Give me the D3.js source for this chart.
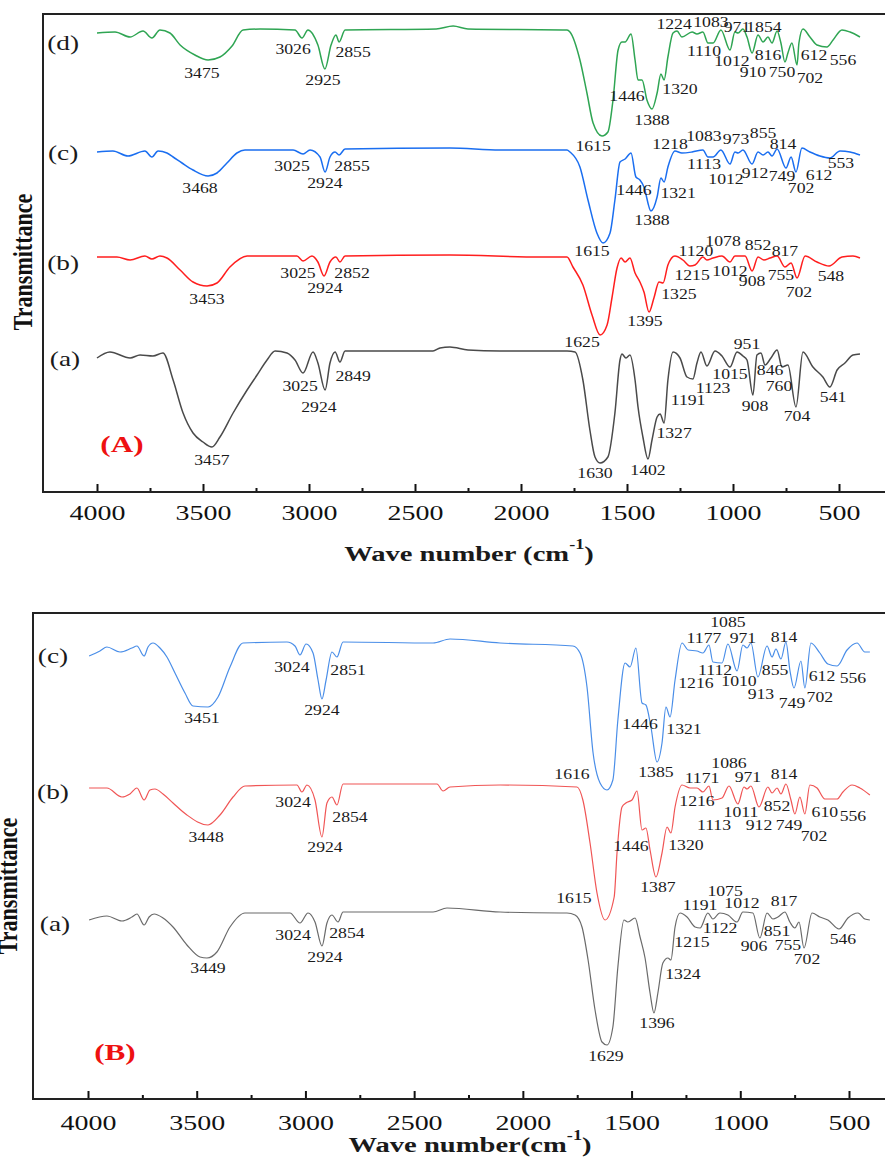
<!DOCTYPE html>
<html>
<head>
<meta charset="utf-8">
<script src="https://cdn.jsdelivr.net/npm/d3@7"></script>
<style>
  body { margin: 0; background: #fff; }
  svg { display: block; }
</style>
</head>
<body>
<script>
// FTIR spectra, wavenumber (cm-1) vs stacked transmittance (a.u.)
const majorTicks = [4000, 3500, 3000, 2500, 2000, 1500, 1000, 500];
const minorTicks = [3750, 3250, 2750, 2250, 1750, 1250, 750];

// ---------- panel (A) ----------
const specA_d = [[4000,229.5],[3915,230],[3844,227.5],[3783,230.5],[3741,227],[3703,231],[3656,229.5],[3608,223.5],[3538,218.5],[3476,216],[3420,217.5],[3363,223],[3311,231],[3231,231.5],[3066,231],[3033,227],[3005,231],[2958,223.5],[2925,211.5],[2896,223.5],[2873,228.5],[2858,225],[2830,231],[2400,231.5],[2320,233],[2250,231.5],[1783,231],[1769,230],[1722,216],[1689,199.5],[1660,184.5],[1618,178],[1590,180],[1566,196],[1542,221],[1524,225],[1509,225],[1481,229],[1462,216],[1448,206],[1429,206],[1406,196],[1382,191.5],[1358,199.5],[1340,209],[1325,206],[1307,217.5],[1283,229.5],[1264,230.5],[1241,227.5],[1193,230],[1170,229],[1142,230],[1118,224.5],[1094,224.5],[1057,231],[1014,221],[991,230],[976,229.5],[953,231.5],[934,227.5],[910,219.5],[882,228.5],[858,225],[835,227.5],[816,224.5],[792,230.5],[774,224.5],[755,215],[741,219.5],[722,224.5],[698,213.5],[689,224.5],[670,231.5],[637,227.5],[604,223.5],[557,222.5],[528,226],[486,231],[448,230],[401,227.5]];
const specA_c = [[4000,170],[3925,170.5],[3854,168],[3774,170.5],[3741,167.5],[3712,170.5],[3670,169.5],[3641,167.5],[3599,164.5],[3547,161],[3476,158],[3434,159.5],[3387,164.5],[3340,169.5],[3302,171],[3075,171],[3028,169],[2995,171],[2948,167.5],[2924,160],[2901,167.5],[2877,170],[2858,168.5],[2830,171.5],[2335,172],[2100,171],[1783,171],[1769,170],[1722,162.5],[1684,146],[1642,129.5],[1613,124.5],[1580,129.5],[1557,146],[1533,165],[1509,166.5],[1481,169.5],[1458,157.5],[1439,156],[1420,152.5],[1387,140.5],[1358,147.5],[1340,157],[1325,155],[1307,162.5],[1274,170.5],[1241,169.5],[1193,170],[1142,171],[1118,167.5],[1094,167.5],[1057,171],[1014,164],[991,170],[976,169.5],[953,171],[910,164],[882,170],[858,168.5],[835,170],[816,168],[792,171.5],[750,162],[726,167.5],[703,160],[675,172],[637,170],[590,168],[543,167],[495,170.5],[448,170],[401,168.5]];
const specA_b = [[4000,117.5],[3906,117.5],[3844,116],[3774,118],[3741,116.5],[3703,118],[3670,117],[3608,111],[3547,105],[3481,103],[3434,104.5],[3373,112.5],[3292,118],[3057,118],[3028,115.5],[2986,118],[2958,115],[2929,108],[2901,115],[2873,117.5],[2854,115],[2830,118],[2335,118.5],[1910,117.5],[1783,117.5],[1755,112.5],[1708,103.5],[1665,88.5],[1627,78.5],[1594,83.5],[1571,97],[1547,112],[1528,117],[1509,115],[1486,117],[1462,109.5],[1439,105],[1420,100],[1396,90],[1373,97],[1349,105],[1330,104.5],[1307,113.5],[1274,118],[1236,116],[1203,113],[1179,113.5],[1142,117.5],[1123,116],[1094,117],[1052,118],[1014,115],[991,118],[943,118],[910,110.5],[882,117.5],[854,116],[825,117],[792,118],[755,112.5],[726,114.5],[698,107],[660,118],[604,115],[547,113],[486,117.5],[434,118],[401,117]];
const specA_a = [[4000,67],[3939,70],[3844,67],[3797,68.5],[3736,68],[3689,69.5],[3641,56],[3594,39.5],[3547,29.5],[3500,25],[3458,22.5],[3420,27.5],[3358,39.5],[3292,51],[3245,58.5],[3198,66],[3160,70.5],[3104,69.5],[3066,66],[3028,59.5],[2981,70],[2958,64.5],[2924,51],[2901,64.5],[2877,70],[2854,65],[2830,70.5],[2415,70.5],[2382,72],[2335,72.5],[2250,71],[2100,70.5],[1783,70.5],[1745,70],[1708,56],[1675,31],[1651,17.5],[1627,14.5],[1590,17.5],[1557,39.5],[1533,66],[1524,69],[1505,67],[1486,68.5],[1462,56],[1448,42.5],[1425,27.5],[1401,16.5],[1382,26],[1358,37.5],[1344,39],[1325,34.5],[1307,56],[1283,70],[1250,67],[1217,57.5],[1189,56.5],[1170,64.5],[1151,70],[1123,63],[1085,70.5],[1052,68],[1014,62.5],[981,70],[953,68],[934,66],[906,48.5],[887,68.5],[868,69.5],[849,63.5],[821,67],[792,71],[769,62.5],[741,63.5],[703,42.5],[670,70],[623,62.5],[576,57.5],[543,52.5],[509,61],[472,64.5],[434,68.5],[401,69]];

// peak labels: [text, wavenumber, value]
const labelsA_d = [["(d)",4160,224.5],["3475",3505,209.5],["3026",3075,221.5],["2855",2792,220],["2925",2934,206],["1224",1278,234],["1083",1104,235],["971",981,232.5],["1854",854,232.5],["1110",1137,220.5],["1012",1005,215.5],["816",835,218.5],["910",906,210],["750",769,210],["612",618,218.5],["556",481,216],["702",637,207],["1446",1500,198],["1320",1250,201.5],["1388",1382,186],["1615",1660,173]];
const labelsA_c = [["(c)",4160,169.5],["3468",3514,152],["3025",3080,163],["2855",2797,163],["2924",2925,154.5],["1218",1297,174],["1083",1137,178],["973",986,176.5],["855",858,179.5],["814",764,174],["1113",1137,164],["1012",1033,156.5],["912",896,159.5],["749",769,158],["702",679,152],["612",594,158.5],["553",491,164.5],["1446",1467,151],["1321",1259,149.5],["1388",1382,136],["1615",1665,120.5]];
const labelsA_b = [["(b)",4160,114.5],["3025",3052,109.5],["2852",2797,109.5],["2924",2925,102],["3453",3481,96.5],["1120",1175,120.5],["1078",1047,125.5],["852",882,123.5],["817",755,120.5],["1215",1193,108.5],["1012",1014,110.5],["908",910,105.5],["755",774,108.5],["702",689,100],["548",538,108],["1325",1255,99],["1395",1415,85.5],["1625",1712,75]];
const labelsA_a = [["(a)",4151,66.5],["3025",3042,53],["2849",2792,58],["2924",2953,42.5],["3457",3458,16],["951",934,74],["1015",1014,59],["846",825,61],["1123",1094,52],["760",783,53],["1191",1212,46],["908",896,43],["541",528,47.5],["704",698,38],["1327",1278,29.5],["1630",1651,9.5],["1402",1401,11]];

// ---------- panel (B) ----------
const specB_c = [[3995,221.5],[3945,224],[3913,226],[3853,223.5],[3798,225.5],[3775,226.5],[3742,221.5],[3724,226],[3701,228],[3669,225.5],[3637,221],[3600,213],[3554,203],[3517,196.5],[3448,196],[3402,201],[3347,216],[3287,228],[3085,228.5],[3048,226.5],[3025,222],[2997,227.5],[2965,223],[2942,209.5],[2924,200],[2905,209.5],[2878,223.5],[2855,221],[2827,228.5],[2413,228],[2335,230],[2105,228],[1770,226.5],[1737,223],[1705,206],[1677,173],[1645,158],[1613,154.5],[1586,159.5],[1563,189.5],[1530,218],[1507,216],[1480,225.5],[1452,198],[1434,197],[1411,186],[1383,168.5],[1360,178],[1342,196],[1323,191],[1300,209.5],[1268,228],[1240,224.5],[1199,224],[1172,223],[1144,227],[1126,218.5],[1084,218],[1057,227.5],[1015,214],[988,227],[969,225.5],[951,228],[919,211],[877,226.5],[854,221],[836,225],[813,220],[790,228.5],[772,214.5],[753,205.5],[721,219],[703,205.5],[675,228],[634,223],[597,217.5],[555,216.5],[509,224.5],[463,228],[427,223.5],[404,223.5]];
const specB_b = [[3995,155.5],[3913,155.5],[3844,151],[3807,152.5],[3775,155.5],[3742,149.5],[3715,154.5],[3692,155],[3655,152.5],[3609,148],[3545,142],[3448,137],[3393,142],[3333,151],[3278,156.5],[3039,157],[3016,153.5],[2993,157],[2956,149.5],[2924,131],[2901,148],[2878,151],[2855,147],[2827,157.5],[2395,157.5],[2367,154],[2335,156],[2105,157],[1751,156],[1724,149.5],[1691,128],[1659,103],[1622,89.5],[1580,101],[1567,123],[1544,146],[1526,148],[1498,149.5],[1475,154],[1452,134.5],[1434,135.5],[1415,124.5],[1388,111],[1360,123],[1337,136],[1319,133],[1300,146],[1268,157],[1231,155.5],[1199,155.5],[1172,153.5],[1144,156.5],[1126,149.5],[1084,150.5],[1052,156.5],[1011,147.5],[983,156],[969,155],[951,156.5],[914,146],[873,156],[854,153],[831,155.5],[813,152.5],[790,157.5],[767,149.5],[749,142.5],[726,151],[703,142.5],[680,157],[647,155.5],[611,150],[555,150],[528,153.5],[486,157],[450,155.5],[404,152]];
const specB_a = [[3995,89.5],[3913,91.5],[3844,89],[3798,91],[3775,92.5],[3742,87],[3719,91],[3696,92.5],[3655,90.5],[3609,86],[3545,77],[3485,71],[3453,70.5],[3407,73.5],[3347,86],[3278,93],[3071,93],[3025,88],[2988,93],[2956,88.5],[2924,76.5],[2901,88],[2878,92],[2850,88.5],[2827,93.5],[2413,93.5],[2349,95.5],[2105,93.5],[1829,93],[1797,93],[1760,92],[1728,86],[1700,69.5],[1668,44.5],[1636,28.5],[1613,27],[1586,36],[1563,66],[1535,89.5],[1517,88.5],[1484,90.5],[1461,81],[1438,70.5],[1415,53],[1397,43],[1379,53],[1356,68],[1333,70.5],[1319,69.5],[1300,86],[1277,93],[1245,91],[1208,86],[1185,85.5],[1149,93],[1126,90],[1094,93],[1057,92],[1015,88.5],[988,93.5],[942,93],[910,80.5],[877,93],[850,90],[827,91],[795,93.5],[772,88.5],[749,85.5],[730,88.5],[707,75.5],[670,93],[634,91],[597,89.5],[546,85],[505,90.5],[459,93],[427,90],[404,89.5]];

const labelsB_c = [["(c)",4161,221.5],["3024",3062,216],["2851",2804,214.5],["2924",2924,194.5],["3451",3476,190.5],["1085",1057,238.5],["1177",1167,230.5],["971",988,230.5],["814",799,231],["1112",1116,214.5],["855",840,214.5],["612",624,211.5],["556",482,210.5],["1216",1204,208],["1010",1006,209],["913",905,202.5],["749",762,198],["702",634,201],["1446",1461,187.5],["1321",1259,185],["1385",1388,163.5],["1616",1774,162.5]];
const labelsB_b = [["(b)",4161,153.5],["3024",3057,148.5],["2854",2795,141],["3448",3457,131],["2924",2910,126],["1086",1052,168],["1171",1176,160.5],["971",965,161],["814",799,162.5],["1216",1199,149],["852",831,146.5],["1011",997,143.5],["610",611,143.5],["556",482,141.5],["1113",1121,137],["912",914,137],["749",776,137],["702",661,131.5],["1446",1503,126.5],["1320",1250,127],["1387",1379,106],["1615",1765,100.5]];
const labelsB_a = [["(a)",4152,87.5],["3024",3057,82],["2854",2809,83],["2924",2910,71],["3449",3448,65.5],["1075",1070,104],["1191",1185,97],["1012",992,98],["817",799,99],["1122",1093,85.5],["851",831,84],["1215",1222,78.5],["906",937,76.5],["755",781,77],["546",528,80],["702",693,70],["1324",1264,62.5],["1396",1383,38],["1629",1618,21.5]];

const W = 885, H = 1159;
const SERIF = "'Liberation Serif','Times New Roman',Times,serif";

const svg = d3.select("body").append("svg")
  .attr("width", W).attr("height", H)
  .attr("viewBox", [0, 0, W, H]);

// text with the horizontal stretch seen in the figure
const txt = (g, x, y, s, size, sx, opt = {}) => {
  const t = g.append("text")
    .attr("transform", `translate(${x},${y}) scale(${sx},1)`)
    .attr("text-anchor", "middle")
    .attr("dominant-baseline", "central")
    .attr("fill", opt.fill || "#1a1a1a")
    .style("font-family", SERIF)
    .style("font-size", size + "px")
    .style("font-weight", opt.bold ? "bold" : "normal")
    .text(s);
  return t;
};

const drawPanel = (p) => {
  const g = svg.append("g");
  const x = d3.scaleLinear().domain([4000, 500]).range([p.x4000, p.x500]);
  const y = d3.scaleLinear().domain([0, p.yMax]).range([p.bottom, p.top]);

  const line = d3.line()
    .x(d => x(d[0]))
    .y(d => y(d[1]))
    .curve(d3.curveMonotoneX);

  p.series.forEach(s => {
    g.append("path")
      .datum(s.data)
      .attr("fill", "none")
      .attr("stroke", s.color)
      .attr("stroke-width", p.lw)
      .attr("stroke-linejoin", "round")
      .attr("d", line);
  });

  p.series.forEach(s => {
    s.labels.forEach(l => {
      const isTag = l[0].startsWith("(");
      txt(g, x(l[1]), y(l[2]), l[0], isTag ? 21 : 15, isTag ? 1.3 : 1.18);
    });
  });

  // panel letter
  txt(g, x(p.tag[1]), y(p.tag[2]), p.tag[0], 24, 1.3, {bold: true, fill: "#ee1111"});

  // axes: inward ticks
  const ax = g.append("g").attr("transform", `translate(0,${p.bottom})`);
  ax.call(d3.axisBottom(x).tickValues(majorTicks).tickSize(-8).tickFormat(d3.format("d")));
  ax.select(".domain").remove();
  ax.selectAll(".tick line").attr("stroke", "#111").attr("stroke-width", 2);
  ax.selectAll(".tick text")
    .attr("y", p.tickLabelOffset).attr("dy", "0.35em")
    .attr("transform", "scale(1.27,1)")
    .attr("fill", "#111")
    .style("font-family", SERIF).style("font-size", "22px");

  const axm = g.append("g").attr("transform", `translate(0,${p.bottom})`);
  axm.call(d3.axisBottom(x).tickValues(minorTicks).tickSize(-4).tickFormat(""));
  axm.select(".domain").remove();
  axm.selectAll(".tick line").attr("stroke", "#111").attr("stroke-width", 2);

  // frame
  g.append("rect")
    .attr("x", p.left).attr("y", p.top)
    .attr("width", W + 20 - p.left).attr("height", p.bottom - p.top)
    .attr("fill", "none").attr("stroke", "#222").attr("stroke-width", 2);

  // x title
  const t = txt(g, p.titleX, p.titleY, "", 22, 1.3, {bold: true});
  t.append("tspan").text(p.titleText);
  t.append("tspan").attr("dy", -8).style("font-size", "14px").text("-1");
  t.append("tspan").attr("dy", 8).text(")");

  // y title
  g.append("text")
    .attr("transform", `translate(${p.yTitleX},${p.yTitleY}) scale(1.25,1) rotate(-90)`)
    .attr("text-anchor", "middle")
    .attr("dominant-baseline", "central")
    .attr("fill", "#111")
    .style("font-family", SERIF)
    .style("font-size", "22px")
    .style("font-weight", "bold")
    .text("Transmittance");
};

drawPanel({
  left: 43, top: 14, bottom: 492, yMax: 239, x4000: 97, x500: 839, lw: 1.5,
  tickLabelOffset: 20, titleX: 469, titleY: 553, titleText: "Wave number (cm",
  yTitleX: 23, yTitleY: 262,
  tag: ["(A)", 3882, 24],
  series: [
    {data: specA_d, color: "#2fa553", labels: labelsA_d},
    {data: specA_c, color: "#1a6ef0", labels: labelsA_c},
    {data: specA_b, color: "#ff1e1e", labels: labelsA_b},
    {data: specA_a, color: "#4a4a4a", labels: labelsA_a}
  ]
});

drawPanel({
  left: 33, top: 613, bottom: 1099, yMax: 243, x4000: 88, x500: 849, lw: 1.2,
  tickLabelOffset: 23, titleX: 470, titleY: 1144, titleText: "Wave number(cm",
  yTitleX: 8, yTitleY: 886,
  tag: ["(B)", 3876, 23.5],
  series: [
    {data: specB_c, color: "#4a8ee8", labels: labelsB_c},
    {data: specB_b, color: "#f05555", labels: labelsB_b},
    {data: specB_a, color: "#6a6a6a", labels: labelsB_a}
  ]
});
</script>
</body>
</html>
